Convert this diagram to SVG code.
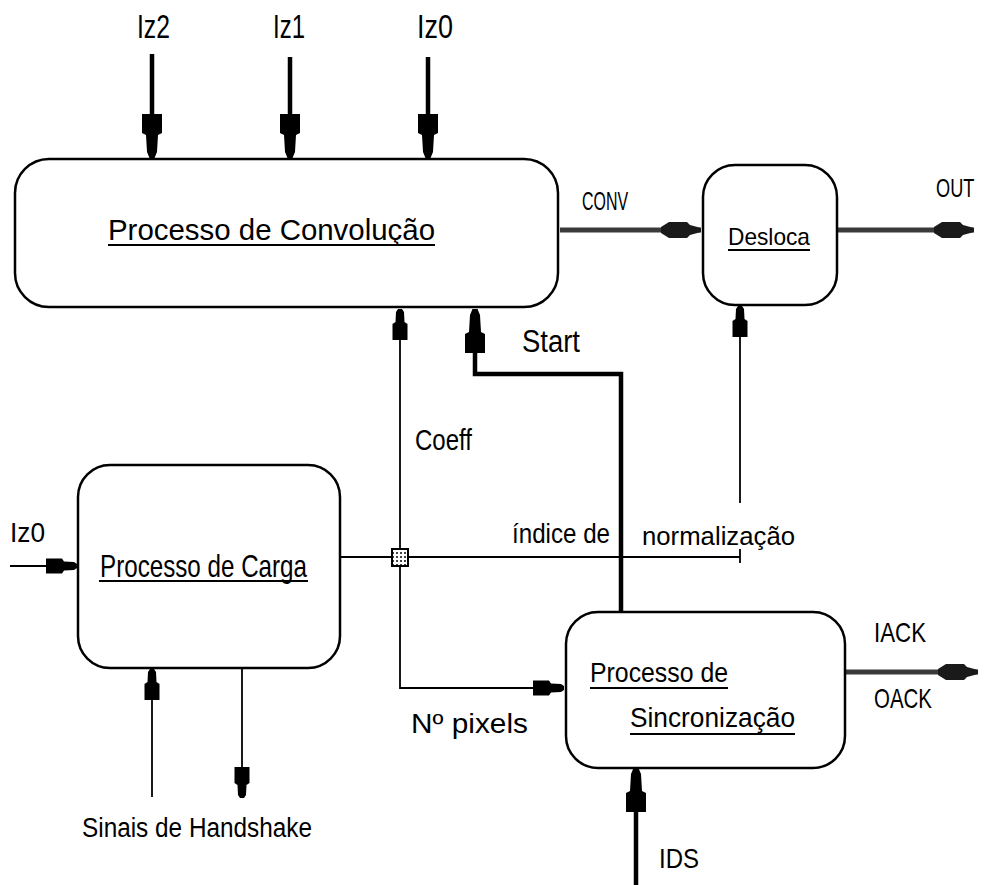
<svg xmlns="http://www.w3.org/2000/svg" width="985" height="885" viewBox="0 0 985 885">
<defs>
<style>
.box{fill:#fff;stroke:#000;stroke-width:2.5}
.t{font-family:"Liberation Sans",Arial,sans-serif;fill:#000}
.thin{fill:none;stroke:#000;stroke-width:1.8}
.thick{fill:none;stroke:#000;stroke-width:4.5}
.gray{fill:none;stroke:#3a3a3a;stroke-width:5}
.ul{stroke:#000;stroke-width:2}
</style>
<marker id="big" viewBox="-46 -12 48 24" markerWidth="48" markerHeight="24" refX="0" refY="0" orient="auto" markerUnits="userSpaceOnUse">
<path d="M-44,-10 L-25,-10 L-23,-6 L-6,-5 L0,-2.5 L0,2.5 L-6,5 L-23,6 L-25,10 L-44,10 Z" fill="#000"/>
</marker>
<marker id="small" viewBox="-34 -9 36 18" markerWidth="36" markerHeight="18" refX="0" refY="0" orient="auto" markerUnits="userSpaceOnUse">
<path d="M-31,-7.5 L-15,-7.5 L-13,-4.5 L-3,-4 L0,-2 L0,2 L-3,4 L-13,4.5 L-15,7.5 L-31,7.5 Z" fill="#000"/>
</marker>
<marker id="grayhead" viewBox="-42 -10 44 20" markerWidth="44" markerHeight="20" refX="0" refY="0" orient="auto" markerUnits="userSpaceOnUse">
<path d="M-40,-3 L-32,-8 L-14,-8 L-11,-5 L0,-2 L0,2 L-11,5 L-14,8 L-32,8 L-40,3 Z" fill="#1a1a1a"/>
</marker>
<pattern id="dots" width="4" height="4" patternUnits="userSpaceOnUse">
<rect width="4" height="4" fill="#fff"/>
<rect x="0" y="0" width="2" height="2" fill="#444"/>
</pattern>
</defs>
<rect width="985" height="885" fill="#fff"/>

<g id="connectors">
<line class="thick" x1="152" y1="54" x2="152" y2="158" marker-end="url(#big)"/>
<line class="thick" x1="290" y1="57" x2="290" y2="158" marker-end="url(#big)"/>
<line class="thick" x1="428" y1="57" x2="428" y2="158" marker-end="url(#big)"/>
<line class="gray" x1="560" y1="230" x2="701" y2="230" marker-end="url(#grayhead)"/>
<line class="gray" x1="838" y1="230" x2="974" y2="230" marker-end="url(#grayhead)"/>
<path class="thick" d="M621,612 V374 H475 V309" marker-end="url(#big)"/>
<path class="thin" d="M400,557 V309" marker-end="url(#small)"/>
<path class="thin" d="M400,557 V688 H564" marker-end="url(#small)"/>
<path class="thin" d="M340,557 H740 M740,549 V563"/>
<path class="thin" d="M740,503 V306" marker-end="url(#small)"/>
<path class="thin" d="M10,566 H77" marker-end="url(#small)"/>
<path class="thin" d="M152,797 V669" marker-end="url(#small)"/>
<path class="thin" d="M242,669 V798" marker-end="url(#small)"/>
<line class="gray" x1="845" y1="672" x2="978" y2="672" marker-end="url(#grayhead)"/>
<path class="thick" d="M636,885 V768" marker-end="url(#big)"/>
<rect x="392" y="549" width="16" height="17" fill="url(#dots)" stroke="#000" stroke-width="2"/>
</g>

<g id="labels">
<text class="t" x="137" y="38" font-size="33" textLength="33" lengthAdjust="spacingAndGlyphs">Iz2</text>
<text class="t" x="273" y="38" font-size="33" textLength="32" lengthAdjust="spacingAndGlyphs">Iz1</text>
<text class="t" x="417" y="38" font-size="33" textLength="36" lengthAdjust="spacingAndGlyphs">Iz0</text>
<text class="t" x="582" y="210" font-size="25" textLength="46" lengthAdjust="spacingAndGlyphs">CONV</text>
<text class="t" transform="translate(936,197) scale(0.7,1)" font-size="26">OUT</text>
<text class="t" x="522" y="352" font-size="31" textLength="58" lengthAdjust="spacingAndGlyphs">Start</text>
<text class="t" x="415" y="450" font-size="29" textLength="57" lengthAdjust="spacingAndGlyphs">Coeff</text>
<text class="t" x="512" y="543" font-size="28" textLength="98" lengthAdjust="spacingAndGlyphs">índice de</text>
<text class="t" x="642" y="545" font-size="26" textLength="153" lengthAdjust="spacingAndGlyphs">normalização</text>
<text class="t" x="10" y="542" font-size="27" textLength="35" lengthAdjust="spacingAndGlyphs">Iz0</text>
<text class="t" x="411" y="733" font-size="27" textLength="117" lengthAdjust="spacingAndGlyphs">Nº pixels</text>
<text class="t" x="874" y="642" font-size="28" textLength="52" lengthAdjust="spacingAndGlyphs">IACK</text>
<text class="t" x="874" y="708" font-size="28" textLength="58" lengthAdjust="spacingAndGlyphs">OACK</text>
<text class="t" x="659" y="868" font-size="28" textLength="40" lengthAdjust="spacingAndGlyphs">IDS</text>
<text class="t" x="82" y="837" font-size="27" textLength="230" lengthAdjust="spacingAndGlyphs">Sinais de Handshake</text>
</g>

<g id="conv">
<rect class="box" x="15" y="159" width="543" height="148" rx="34" ry="34"/>
<text class="t" x="108" y="240" font-size="30" textLength="327" lengthAdjust="spacingAndGlyphs">Processo de Convolução</text>
<line class="ul" x1="108" y1="245" x2="435" y2="245"/>
</g>

<g id="desloca">
<rect class="box" x="703" y="165" width="134" height="140" rx="32" ry="32"/>
<text class="t" x="728" y="245" font-size="24" textLength="82" lengthAdjust="spacingAndGlyphs">Desloca</text>
<line class="ul" x1="728" y1="250" x2="810" y2="250"/>
</g>

<g id="carga">
<rect class="box" x="78" y="465" width="262" height="203" rx="32" ry="32"/>
<text class="t" x="100" y="577" font-size="32" textLength="207" lengthAdjust="spacingAndGlyphs">Processo de Carga</text>
<line class="ul" x1="99" y1="581" x2="308" y2="581"/>
</g>

<g id="sincronizacao">
<rect class="box" x="566" y="612" width="279" height="156" rx="32" ry="32"/>
<text class="t" x="590" y="682" font-size="28" textLength="138" lengthAdjust="spacingAndGlyphs">Processo de</text>
<line class="ul" x1="590" y1="688" x2="728" y2="688"/>
<text class="t" x="630" y="727" font-size="28" textLength="165" lengthAdjust="spacingAndGlyphs">Sincronização</text>
<line class="ul" x1="630" y1="734" x2="795" y2="734"/>
</g>
</svg>
